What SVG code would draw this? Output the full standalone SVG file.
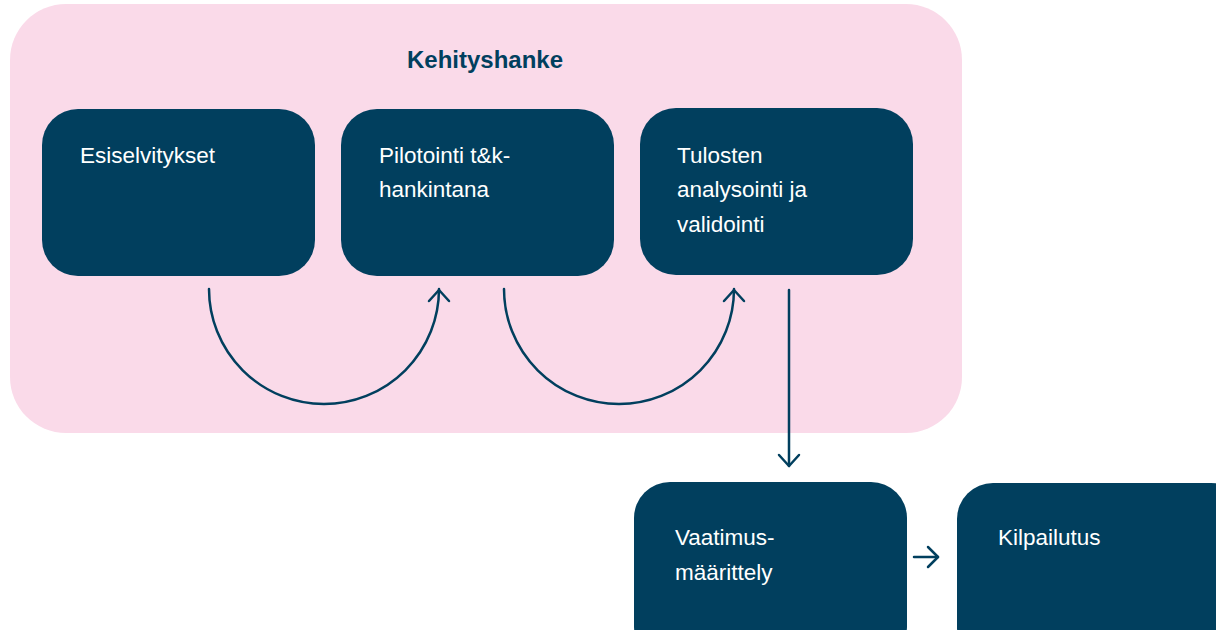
<svg xmlns="http://www.w3.org/2000/svg" width="1216" height="630" viewBox="0 0 1216 630">
<style>
.box{fill:#013F5E}
.lbl{fill:#FFFFFF;font-family:"Liberation Sans",Arial,sans-serif;font-size:22.5px}
.title{fill:#013F5E;font-family:"Liberation Sans",Arial,sans-serif;font-size:24px;font-weight:bold}
.conn{fill:none;stroke:#013F5E;stroke-width:2.5;stroke-linecap:round;stroke-linejoin:round}
</style>
<rect width="1216" height="630" fill="#FFFFFF"/>
<g id="kehityshanke">
<rect x="10" y="4" width="952" height="429" rx="56" fill="#FADAE9"/>
<text class="title" x="485" y="68" text-anchor="middle">Kehityshanke</text>
</g>
<g id="esiselvitykset">
<rect class="box" x="42" y="109" width="273" height="167" rx="36"/>
<text class="lbl" x="80" y="163">Esiselvitykset</text>
</g>
<g id="pilotointi">
<rect class="box" x="341" y="109" width="273" height="167" rx="36"/>
<text class="lbl" x="379" y="163">Pilotointi t&amp;k-</text>
<text class="lbl" x="379" y="197">hankintana</text>
</g>
<g id="tulosten">
<rect class="box" x="640" y="108" width="273" height="167" rx="36"/>
<text class="lbl" x="677" y="163">Tulosten</text>
<text class="lbl" x="677" y="197">analysointi ja</text>
<text class="lbl" x="677" y="232">validointi</text>
</g>
<g id="vaatimusmaarittely">
<rect class="box" x="634" y="482" width="273" height="180" rx="36"/>
<text class="lbl" x="675" y="545">Vaatimus-</text>
<text class="lbl" x="675" y="580">määrittely</text>
</g>
<g id="kilpailutus">
<rect class="box" x="957" y="483" width="290" height="180" rx="36"/>
<text class="lbl" x="998" y="545">Kilpailutus</text>
</g>
<g id="connectors">
<path class="conn" d="M209 289 A115 115 0 0 0 439 289"/>
<path class="conn" d="M429 301 L439 290 L449 301"/>
<path class="conn" d="M504 289 A115 115 0 0 0 734 289"/>
<path class="conn" d="M724 301 L734 290 L744 301"/>
<path class="conn" d="M789 290 L789 466"/>
<path class="conn" d="M779 455 L789 466 L799 455"/>
<path class="conn" d="M914 557 L938 557"/>
<path class="conn" d="M928 547 L938 557 L928 567"/>
</g>
</svg>
